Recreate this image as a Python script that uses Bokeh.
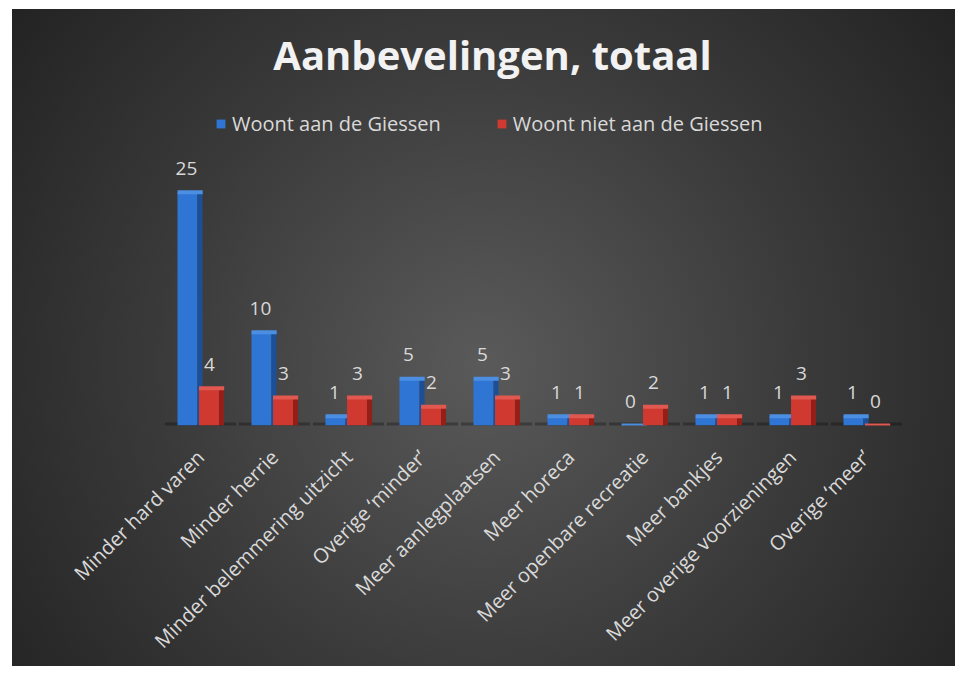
import math
from bokeh.plotting import figure
from bokeh.models import ColumnDataSource, FactorRange, Range1d, Label, Legend, LegendItem
from bokeh.transform import dodge
from bokeh.core.properties import value
from bokeh.embed import file_html
from bokeh.resources import INLINE

# ---- data ----
categories = [
    "Minder hard varen",
    "Minder herrie",
    "Minder belemmering uitzicht",
    "Overige \u2018minder\u2019",
    "Meer aanlegplaatsen",
    "Meer horeca",
    "Meer openbare recreatie",
    "Meer bankjes",
    "Meer overige voorzieningen",
    "Overige \u2018meer\u2019",
]
woont_aan = [25, 10, 1, 5, 5, 1, 0, 1, 1, 1]
woont_niet_aan = [4, 3, 3, 2, 3, 1, 2, 1, 3, 0]
series_names = ["Woont aan de Giessen", "Woont niet aan de Giessen"]
chart_title = "Aanbevelingen, totaal"

source = ColumnDataSource(dict(
    cat=categories,
    aan=woont_aan,
    niet=woont_niet_aan,
    aan_txt=[str(v) for v in woont_aan],
    niet_txt=[str(v) for v in woont_niet_aan],
))

FONT = "Open Sans"
TXT = "#d9d9d9"

p = figure(
    x_range=FactorRange(*categories),
    y_range=Range1d(0, 44.6),
    width=943, height=657,
    output_backend="svg", toolbar_location=None, title=None,
    min_border_left=151, min_border_right=52, min_border_top=0, min_border_bottom=241,
    styles={
        "margin-left": "12px",
        "margin-top": "9px",
        "background": "radial-gradient(circle farthest-corner at 50% 54%, #5a5a5a 0%, #3a3a3a 55%, #232323 100%)",
    },
)
p.background_fill_alpha = 0
p.border_fill_alpha = 0
p.outline_line_color = None
p.xgrid.grid_line_color = None
p.ygrid.grid_line_color = None
p.yaxis.visible = False

xa = p.xaxis[0]
xa.axis_line_color = None
xa.major_tick_line_color = None
xa.minor_tick_line_color = None
xa.major_label_orientation = math.pi / 4
xa.major_label_text_font = FONT
xa.major_label_text_font_size = "20px"
xa.major_label_text_color = TXT
xa.major_label_standoff = 22

# floor shadow
p.rect(x="cat", y=0, width=0.96, height=6, height_units="screen", source=source,
       fill_color="#000000", fill_alpha=0.28, line_color=None)

BLUE, BLUE_SIDE, BLUE_TOP = "#2f76d4", "#1d4f96", "#4c8fe2"
RED, RED_SIDE, RED_TOP = "#cf3930", "#922019", "#e0584f"

r_aan = p.vbar(x=dodge("cat", -0.176, range=p.x_range), top="aan", width=0.27, source=source,
               fill_color=BLUE, line_color=None)
p.vbar(x=dodge("cat", -0.007, range=p.x_range), top="aan", width=0.068, source=source,
       fill_color=BLUE_SIDE, line_color=None)
p.rect(x=dodge("cat", -0.14, range=p.x_range), y="aan", width=0.34, height=4, height_units="screen",
       source=source, fill_color=BLUE_TOP, line_color=None)

r_niet = p.vbar(x=dodge("cat", 0.115, range=p.x_range), top="niet", width=0.27, source=source,
                fill_color=RED, line_color=None)
p.vbar(x=dodge("cat", 0.284, range=p.x_range), top="niet", width=0.068, source=source,
       fill_color=RED_SIDE, line_color=None)
p.rect(x=dodge("cat", 0.15, range=p.x_range), y="niet", width=0.34, height=4, height_units="screen",
       source=source, fill_color=RED_TOP, line_color=None)

# value labels
p.text(x=dodge("cat", -0.19, range=p.x_range), y="aan", text="aan_txt", source=source,
       text_align="center", text_baseline="alphabetic", y_offset=-24,
       text_font=value(FONT), text_font_size="19px", text_color=TXT)
p.text(x=dodge("cat", 0.12, range=p.x_range), y="niet", text="niet_txt", source=source,
       text_align="center", text_baseline="alphabetic", y_offset=-24,
       text_font=value(FONT), text_font_size="19px", text_color=TXT)

# legend
legend = Legend(
    items=[LegendItem(label=series_names[0], renderers=[r_aan]),
           LegendItem(label=series_names[1], renderers=[r_niet])],
    location=(52, 288), orientation="horizontal",
    glyph_width=11, glyph_height=11, label_standoff=6, spacing=55,
    padding=0, margin=0,
    label_text_font=FONT, label_text_font_size="20px", label_text_color=TXT,
    background_fill_alpha=0, border_line_alpha=0,
)
p.add_layout(legend, "center")

# title
p.add_layout(Label(
    x=329, y=371, x_units="screen", y_units="screen", text=chart_title,
    text_align="center", text_baseline="middle",
    text_font=FONT, text_font_style="bold", text_font_size="40px", text_color="#f2f2f2",
))

open("out.html", "w").write(file_html(p, INLINE))
